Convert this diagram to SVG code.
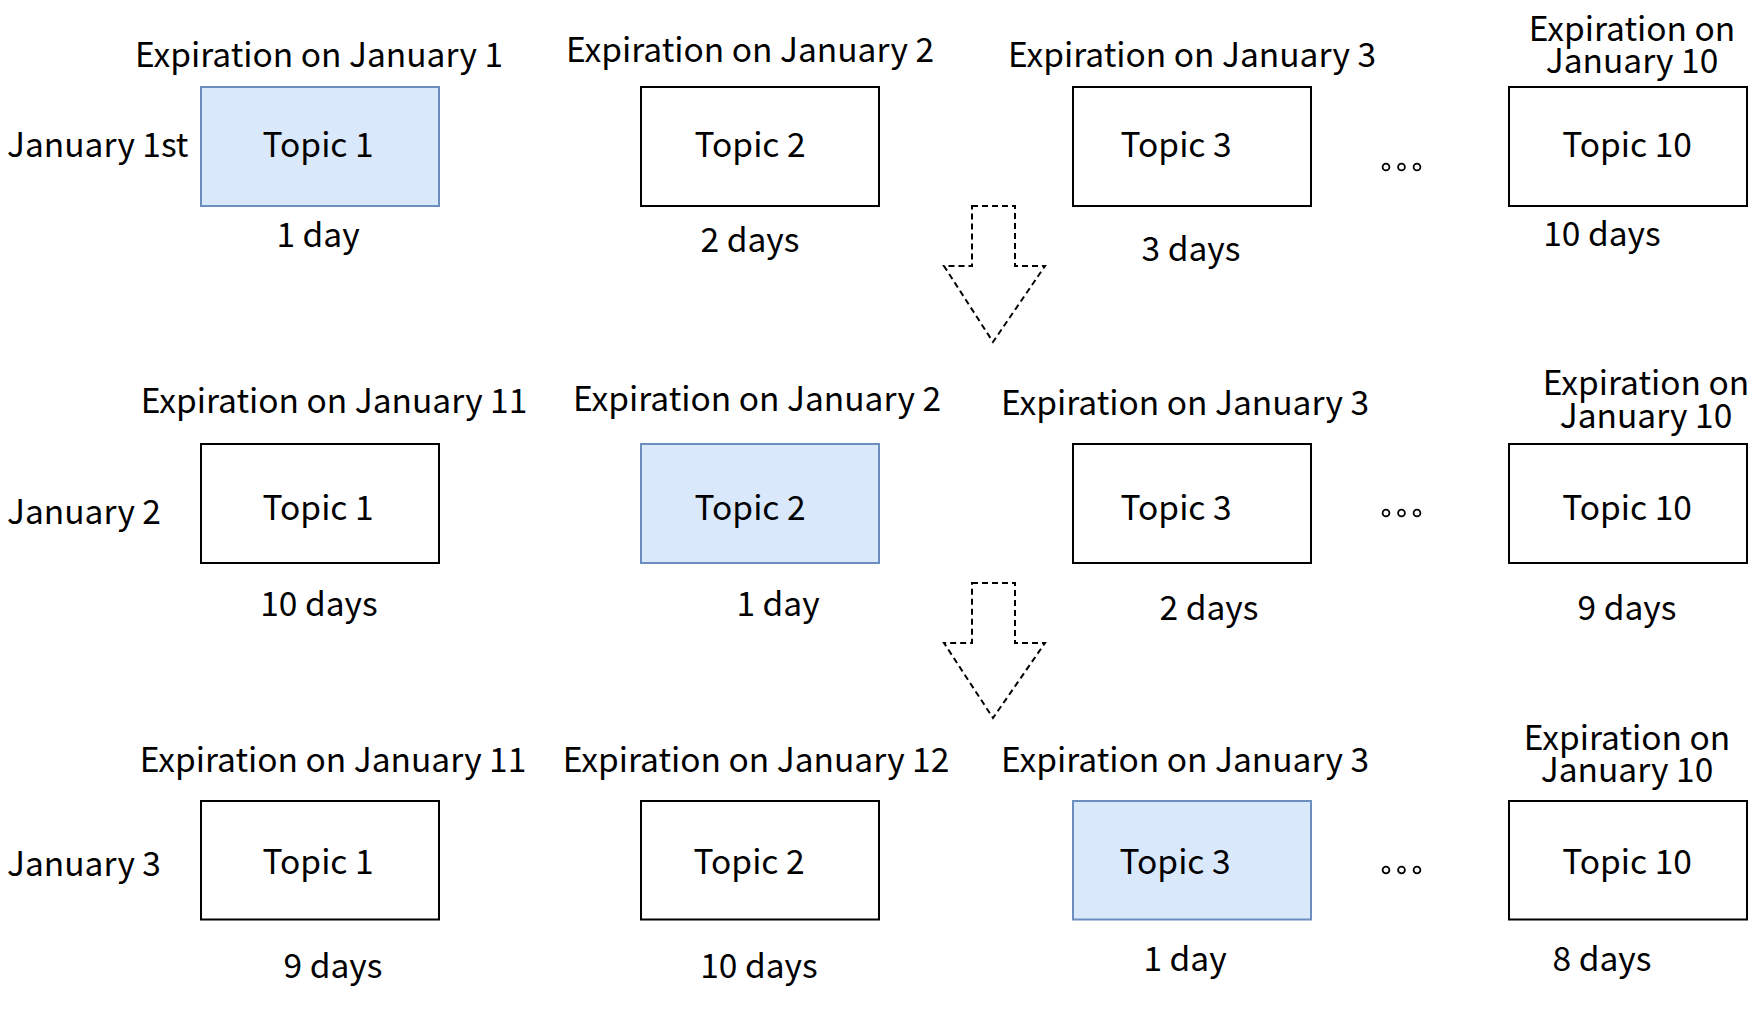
<svg xmlns="http://www.w3.org/2000/svg" width="1752" height="1022" viewBox="0 0 1752 1022">
<style>
  text { font-family: "Noto Sans CJK SC", "Noto Sans", "Liberation Sans", sans-serif; font-size: 33.5px; fill: #000; }
  .c { text-anchor: middle; }
  .box { fill: #ffffff; stroke: #000; stroke-width: 2; }
  .hl { fill: #dae8fc; stroke: #6c8ebf; stroke-width: 2; }
  .arrow { fill: none; stroke: #000; stroke-width: 2; stroke-dasharray: 6 4; }
  .dot { fill: #fff; stroke: #000; stroke-width: 1.8; }
</style>
<rect width="1752" height="1022" fill="#ffffff"/>

<!-- Row labels -->
<g id="row-label-1"><text x="7" y="157">January 1st</text></g>
<g id="row-label-2"><text x="7" y="524">January 2</text></g>
<g id="row-label-3"><text x="7" y="876">January 3</text></g>

<!-- Row 1 -->
<g id="r1-topic1">
  <text class="c" x="319" y="67">Expiration on January 1</text>
  <rect class="hl" x="201" y="87" width="238" height="119"/>
  <text class="c" x="318" y="157">Topic 1</text>
  <text class="c" x="318" y="247">1 day</text>
</g>
<g id="r1-topic2">
  <text class="c" x="750" y="62">Expiration on January 2</text>
  <rect class="box" x="641" y="87" width="238" height="119"/>
  <text class="c" x="750" y="157">Topic 2</text>
  <text class="c" x="750" y="252">2 days</text>
</g>
<g id="r1-topic3">
  <text class="c" x="1192" y="67">Expiration on January 3</text>
  <rect class="box" x="1073" y="87" width="238" height="119"/>
  <text class="c" x="1176" y="157">Topic 3</text>
  <text class="c" x="1191" y="261">3 days</text>
</g>
<g id="r1-dots">
  <circle class="dot" cx="1386" cy="167" r="3.4"/>
  <circle class="dot" cx="1401.5" cy="167" r="3.4"/>
  <circle class="dot" cx="1417" cy="167" r="3.4"/>
</g>
<g id="r1-topic10">
  <text class="c" x="1632" y="41">Expiration on</text>
  <text class="c" x="1632" y="73">January 10</text>
  <rect class="box" x="1509" y="87" width="238" height="119"/>
  <text class="c" x="1627" y="157">Topic 10</text>
  <text class="c" x="1602" y="246">10 days</text>
</g>

<!-- Row 2 -->
<g id="r2-topic1">
  <text class="c" x="334" y="413">Expiration on January 11</text>
  <rect class="box" x="201" y="444" width="238" height="119"/>
  <text class="c" x="318" y="520">Topic 1</text>
  <text class="c" x="319" y="616">10 days</text>
</g>
<g id="r2-topic2">
  <text class="c" x="757" y="411">Expiration on January 2</text>
  <rect class="hl" x="641" y="444" width="238" height="119"/>
  <text class="c" x="750" y="520">Topic 2</text>
  <text class="c" x="778" y="616">1 day</text>
</g>
<g id="r2-topic3">
  <text class="c" x="1185" y="415">Expiration on January 3</text>
  <rect class="box" x="1073" y="444" width="238" height="119"/>
  <text class="c" x="1176" y="520">Topic 3</text>
  <text class="c" x="1209" y="620">2 days</text>
</g>
<g id="r2-dots">
  <circle class="dot" cx="1386" cy="513" r="3.4"/>
  <circle class="dot" cx="1401.5" cy="513" r="3.4"/>
  <circle class="dot" cx="1417" cy="513" r="3.4"/>
</g>
<g id="r2-topic10">
  <text class="c" x="1646" y="395">Expiration on</text>
  <text class="c" x="1646" y="428">January 10</text>
  <rect class="box" x="1509" y="444" width="238" height="119"/>
  <text class="c" x="1627" y="520">Topic 10</text>
  <text class="c" x="1627" y="620">9 days</text>
</g>

<!-- Row 3 -->
<g id="r3-topic1">
  <text class="c" x="333" y="772">Expiration on January 11</text>
  <rect class="box" x="201" y="801" width="238" height="118.5"/>
  <text class="c" x="318" y="874">Topic 1</text>
  <text class="c" x="333" y="978">9 days</text>
</g>
<g id="r3-topic2">
  <text class="c" x="756" y="772">Expiration on January 12</text>
  <rect class="box" x="641" y="801" width="238" height="118.5"/>
  <text class="c" x="749" y="874">Topic 2</text>
  <text class="c" x="759" y="978">10 days</text>
</g>
<g id="r3-topic3">
  <text class="c" x="1185" y="772">Expiration on January 3</text>
  <rect class="hl" x="1073" y="801" width="238" height="118.5"/>
  <text class="c" x="1175" y="874">Topic 3</text>
  <text class="c" x="1185" y="971">1 day</text>
</g>
<g id="r3-dots">
  <circle class="dot" cx="1386" cy="870" r="3.4"/>
  <circle class="dot" cx="1401.5" cy="870" r="3.4"/>
  <circle class="dot" cx="1417" cy="870" r="3.4"/>
</g>
<g id="r3-topic10">
  <text class="c" x="1627" y="750">Expiration on</text>
  <text class="c" x="1627" y="782">January 10</text>
  <rect class="box" x="1509" y="801" width="238" height="118.5"/>
  <text class="c" x="1627" y="874">Topic 10</text>
  <text class="c" x="1602" y="971">8 days</text>
</g>

<!-- Connectors: dashed block arrows -->
<g id="connectors">
  <path class="arrow" d="M972,206 H1015 V266 H1045 L993,342 L944,266 H972 Z"/>
  <path class="arrow" d="M972,583 H1015 V643 H1045 L993,718 L944,643 H972 Z"/>
</g>
</svg>
